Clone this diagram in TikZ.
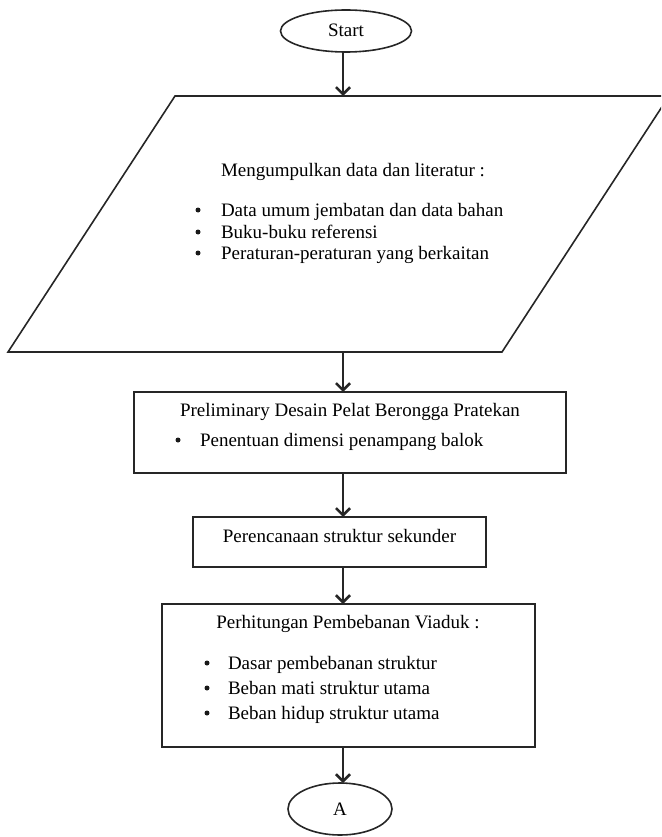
\documentclass[tikz,border=0pt]{standalone}
\usepackage{fontspec}
\setmainfont{Liberation Serif}
\usetikzlibrary{arrows.meta,shapes.geometric}
\begin{document}
\begin{tikzpicture}[x=1pt,y=-1pt,
  every node/.style={inner sep=0pt, outer sep=0pt},
  txt/.style={font=\fontsize{19}{22}\selectfont, text=black, anchor=base},
  lft/.style={txt, anchor=base west},
  dot/.style={circle, fill=black!90, minimum size=5pt},
  box/.style={draw=black!85, line width=1.6pt, rectangle},
  oval/.style={draw=black!85, line width=1.6pt, ellipse},
  arr/.style={draw=black!85, line width=2.6pt, -{Straight Barb[length=7pt,width=14pt]}}]
\useasboundingbox (0,0) rectangle (661,837);
\clip (0,0) rectangle (661,837);
\coordinate (ax) at (343,0);

% Start
\node[oval, minimum width=131pt, minimum height=42pt] (start) at (346,31) {};
\node[txt] (starttxt) at (346,37) {Start};

% Parallelogram (input)
\draw[draw=black!85, line width=1.6pt] (175,96) -- (669,96) -- (502,352) -- (8,352) -- cycle;
\coordinate (ptop) at (343,96);
\coordinate (pbot) at (343,352);
\node[txt] (ptitle) at (353,176) {Mengumpulkan data dan literatur :};
\node[dot] (pb1) at (198,210) {};
\node[dot] (pb2) at (198,232) {};
\node[dot] (pb3) at (198,253) {};
\node[lft] (pl1) at (221,216) {Data umum jembatan dan data bahan};
\node[lft] (pl2) at (221,238) {Buku-buku referensi};
\node[lft] (pl3) at (221,259) {Peraturan-peraturan yang berkaitan};

% Box 1
\node[box, minimum width=432pt, minimum height=81pt] (b1) at (350,432.5) {};
\node[txt] (b1title) at (350,416) {Preliminary Desain Pelat Berongga Pratekan};
\node[dot] (b1b) at (178,440) {};
\node[lft] (b1l) at (200,446) {Penentuan dimensi penampang balok};

% Box 2
\node[box, minimum width=293pt, minimum height=50pt] (b2) at (339.5,542) {};
\node[txt] (b2txt) at (339.5,542) {Perencanaan struktur sekunder};

% Box 3
\node[box, minimum width=373pt, minimum height=143pt] (b3) at (348.5,675.5) {};
\node[txt] (b3title) at (348,628) {Perhitungan Pembebanan Viaduk :};
\node[dot] (b3b1) at (207,663) {};
\node[dot] (b3b2) at (207,688) {};
\node[dot] (b3b3) at (207,713) {};
\node[lft] (b3l1) at (228,669) {Dasar pembebanan struktur};
\node[lft] (b3l2) at (228,694) {Beban mati struktur utama};
\node[lft] (b3l3) at (228,719) {Beban hidup struktur utama};

% Connector A
\node[oval, minimum width=104pt, minimum height=52pt] (A) at (340,809) {};
\node[txt] (Atxt) at (340,815) {A};

% Arrows
\draw[arr] (start.south -| ax) -- (ptop);
\draw[arr] (pbot) -- (b1.north -| ax);
\draw[arr] (b1.south -| ax) -- (b2.north -| ax);
\draw[arr] (b2.south -| ax) -- (b3.north -| ax);
\draw[arr] (b3.south -| ax) -- (A.north -| ax);
\end{tikzpicture}
\end{document}
